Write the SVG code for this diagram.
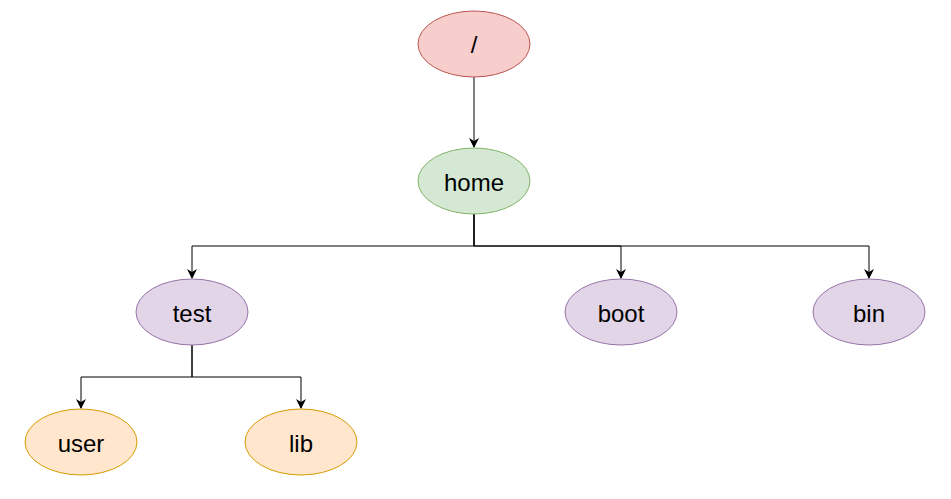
<svg xmlns="http://www.w3.org/2000/svg" width="951" height="499" viewBox="0 0 951 499">
<style>
.red{fill:#f8cecc;stroke:#b85450}
.green{fill:#d5e8d4;stroke:#82b366}
.purple{fill:#e1d5e7;stroke:#9673a6}
.orange{fill:#ffe6cc;stroke:#d79b00}
text{font-family:"Liberation Sans",Arial,sans-serif;font-size:24px;fill:#000;text-anchor:middle;dominant-baseline:central}
.edge{fill:none;stroke:#000;stroke-width:1}
</style>
<defs>
<marker id="arrow" viewBox="0 0 10 10" refX="9" refY="5" markerWidth="10" markerHeight="10" markerUnits="userSpaceOnUse" orient="auto">
<path d="M0,0 L10,5 L0,10 L3,5 Z" fill="#000"/>
</marker>
</defs>
<rect width="951" height="499" fill="#fff"/>
<g id="connectors">
<path class="edge" d="M474,77 L474,147" marker-end="url(#arrow)"/>
<path class="edge" d="M474,214 L474,246 L192,246 L192,278" marker-end="url(#arrow)"/>
<path class="edge" d="M474,214 L474,246 L621,246 L621,278" marker-end="url(#arrow)"/>
<path class="edge" d="M474,214 L474,246 L869,246 L869,278" marker-end="url(#arrow)"/>
<path class="edge" d="M192,345 L192,377 L81,377 L81,408" marker-end="url(#arrow)"/>
<path class="edge" d="M192,345 L192,377 L301,377 L301,408" marker-end="url(#arrow)"/>
</g>
<g id="root"><ellipse class="red" cx="474" cy="44" rx="56" ry="33"/><text x="474" y="44">/</text></g>
<g id="home"><ellipse class="green" cx="474" cy="181" rx="56" ry="33"/><text x="474" y="182">home</text></g>
<g id="test"><ellipse class="purple" cx="192" cy="312" rx="56" ry="33"/><text x="192" y="313">test</text></g>
<g id="boot"><ellipse class="purple" cx="621" cy="312" rx="56" ry="33"/><text x="621" y="313">boot</text></g>
<g id="bin"><ellipse class="purple" cx="869" cy="312" rx="56" ry="33"/><text x="869" y="313">bin</text></g>
<g id="user"><ellipse class="orange" cx="81" cy="442" rx="56" ry="33"/><text x="81" y="443">user</text></g>
<g id="lib"><ellipse class="orange" cx="301" cy="442" rx="56" ry="33"/><text x="301" y="443">lib</text></g>
</svg>
